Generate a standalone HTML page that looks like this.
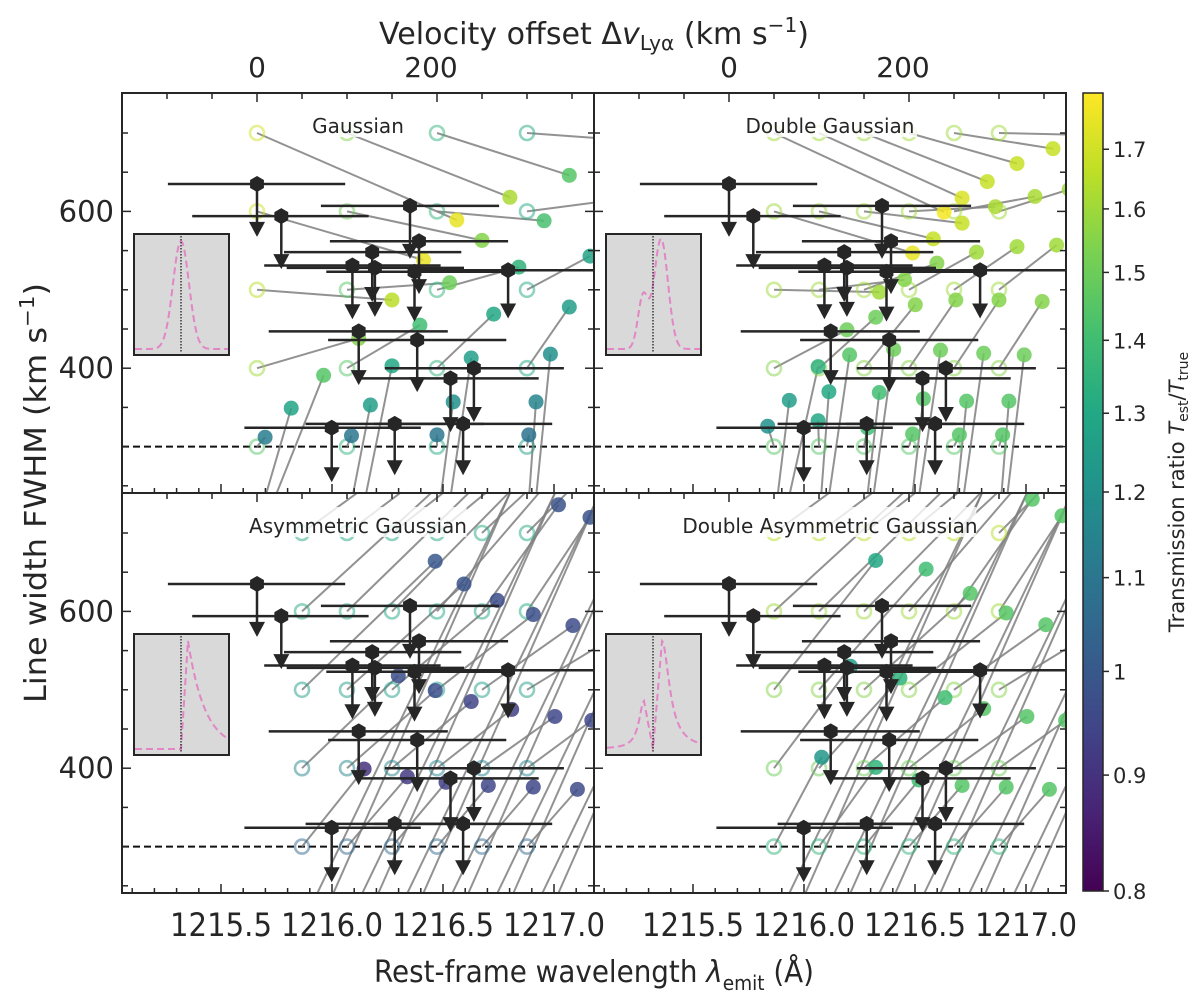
<!DOCTYPE html>
<html><head><meta charset="utf-8"><style>
html,body{margin:0;padding:0;background:#fff}
svg text{font-family:"DejaVu Sans","Liberation Sans",sans-serif;fill:#262626}
</style></head><body>
<svg id="fig" width="1200" height="997" viewBox="0 0 1200 997" xmlns="http://www.w3.org/2000/svg">
<defs>
<linearGradient id="vir" x1="0" y1="1" x2="0" y2="0">
<stop offset="0" stop-color="#440154"/><stop offset="0.1" stop-color="#482475"/><stop offset="0.2" stop-color="#414487"/><stop offset="0.3" stop-color="#355f8d"/><stop offset="0.4" stop-color="#2a788e"/><stop offset="0.5" stop-color="#21918c"/><stop offset="0.6" stop-color="#22a884"/><stop offset="0.7" stop-color="#44bf70"/><stop offset="0.8" stop-color="#7ad151"/><stop offset="0.9" stop-color="#bddf26"/><stop offset="1" stop-color="#fde725"/>
</linearGradient>
</defs>
<g id="layer"></g>
<text x="594" y="44" text-anchor="middle" font-size="30" textLength="430" lengthAdjust="spacingAndGlyphs">Velocity offset Δ<tspan font-style="italic">v</tspan><tspan font-size="20" dy="6">Lyα</tspan><tspan dy="-6"> (km s</tspan><tspan font-size="20" dy="-12">−1</tspan><tspan dy="12">)</tspan></text>
<text x="594" y="982" text-anchor="middle" font-size="30" textLength="440" lengthAdjust="spacingAndGlyphs">Rest-frame wavelength <tspan font-style="italic">λ</tspan><tspan font-size="20" dy="8">emit</tspan><tspan dy="-8"> (Å)</tspan></text>
<text transform="translate(46,493) rotate(-90)" text-anchor="middle" font-size="30" textLength="420" lengthAdjust="spacingAndGlyphs">Line width FWHM (km s<tspan font-size="20" dy="-12">−1</tspan><tspan dy="12">)</tspan></text>
<rect x="1083" y="93" width="20" height="798" fill="url(#vir)" stroke="#262626" stroke-width="1.5"/>
<text transform="translate(1184,492) rotate(-90)" text-anchor="middle" font-size="21">Transmission ratio <tspan font-style="italic">T</tspan><tspan font-size="14" dy="4">est</tspan><tspan dy="-4">/</tspan><tspan font-style="italic">T</tspan><tspan font-size="14" dy="4">true</tspan></text>
</svg>
<script>
// ---- data ----
const obsV=[0,27,170,180,128,106,131,175,279,113,178,215,241,83,153,229];
const obsF=[635,594,607,562,548,531,528,523,525,447,436,387,400,324,329,329];
const obsErrLo=[-99,-72,71,81,30,8,33,77,181,13,79,116,142,-14,54,130];
const obsErrHi=[98,124,269,279,227,204,230,273,480,212,277,313,341,182,252,328];
const obsLimF=[570,529,542,497,487,465,468,462,466,381,372,321,334,257,266,266];

const p1TrueV=[0,100,200,300,0,100,200,300,0,100,200,300,0,100,200,300,0,100,200,300,0,-20,100,100,200,200,300,300];
const p1TrueF=[700,700,700,700,600,600,600,600,500,500,500,500,400,400,400,400,300,300,300,300,200,120,200,120,200,120,200,120];
const p1EstV=[222,281,347,420,185,250,319,400,150,214,291,370,113,181,263,347,9,105,200,302,38,74,126,150,218,238,310,326];
const p1EstF=[589,618,646,690,538,563,588,615,487,509,529,543,438,455,469,478,312,314,315,315,349,391,353,403,357,413,357,418];
const p1Ratio=[1.75,1.62,1.45,1.4,1.75,1.55,1.42,1.35,1.65,1.5,1.35,1.28,1.55,1.4,1.3,1.25,1.12,1.1,1.1,1.08,1.28,1.45,1.25,1.3,1.2,1.25,1.15,1.2];
const p1CircRatio=[1.7,1.55,1.35,1.3,1.7,1.5,1.35,1.3,1.65,1.45,1.35,1.3,1.6,1.45,1.35,1.3,1.45,1.35,1.3,1.25,1.3,1.3,1.3,1.3,1.3,1.3,1.3,1.3];

const gridV=[50,100,150,200,250,300];
const p2Rows=[700,600,500,400,300,200,150];
const p2EstV=[239,259,287,320,360,420, 204,227,259,296,340,378, 167,195,231,275,320,364, 131,163,207,252,300,348, 43,99,154,204,256,304, 67,111,167,216,264,311, 99,134,183,235,283,328];
const p2EstF=[599,617,638,661,680,697, 547,565,585,606,619,628, 497,513,534,548,555,557, 449,465,481,487,487,485, 326,333,324,316,315,315, 359,370,369,361,358,358, 402,417,424,423,419,417];
const p2Ratio=[1.78,1.72,1.68,1.68,1.68,1.68, 1.75,1.68,1.68,1.62,1.62,1.6, 1.6,1.55,1.55,1.6,1.6,1.6, 1.5,1.5,1.55,1.55,1.55,1.55, 1.2,1.3,1.4,1.45,1.45,1.45, 1.25,1.3,1.4,1.45,1.45,1.45, 1.35,1.45,1.5,1.5,1.5,1.5];
const p2CircRatio=[1.6,1.6,1.6,1.55,1.45,1.45,1.45];

const p3Rows=[700,600,500,400,300,200,150];
const p3EstV=[290,320,350,380,400,430, 240,270,300,320,335,370, 198,230,267,307,351,400, 157,198,238,283,331,372, 119,167,210,257,307,356, 310,360,410,460,510,560, 300,350,400,450,500,550];
const p3EstF=[900,890,880,870,860,850, 800,790,775,760,736,720, 664,635,614,596,582,570, 518,499,485,475,466,461, 399,389,382,378,376,373, 820,820,820,820,820,820, 800,800,800,800,800,800];
const p3Ratio=[1,1,1,1,1,1, 1,1,1,1,0.98,0.98, 1.0,0.98,0.97,0.97,0.96,0.96, 0.97,0.97,0.94,0.93,0.95,0.95, 0.9,0.92,0.93,0.95,0.95,0.96, 1,1,1,1,1,1, 1,1,1,1,1,1];
const p3CircRatio=[1.3,1.3,1.25,1.15,1.05,1.05,1.05];

const p4Rows=[700,600,500,400,300,200,150];
const p4EstV=[290,320,350,380,400,430, 240,270,300,320,337,370, 163,219,268,308,352,400, 135,190,240,283,331,374, 103,163,211,259,308,356, 310,360,410,460,510,560, 300,350,400,450,500,550];
const p4EstF=[900,890,880,870,860,850, 800,790,775,760,743,722, 665,654,623,598,583,570, 530,515,490,476,466,461, 414,401,385,378,376,373, 820,820,820,820,820,820, 800,800,800,800,800,800];
const p4Ratio=[1.45,1.45,1.45,1.45,1.45,1.45, 1.45,1.45,1.45,1.45,1.45,1.45, 1.3,1.4,1.45,1.45,1.45,1.45, 1.25,1.35,1.4,1.45,1.45,1.45, 1.22,1.35,1.4,1.45,1.45,1.45, 1.4,1.4,1.4,1.4,1.4,1.4, 1.4,1.4,1.4,1.4,1.4,1.4];
const p4CircRatio=[1.65,1.6,1.55,1.5,1.35,1.35,1.35];

const wlTicks=[1215.5,1216.0,1216.5,1217.0];
const wlLabels=["1215.5","1216.0","1216.5","1217.0"];
const velLabels=[0,200];
const fwhmLabels=[400,600];
const cbTicks=[0.8,0.9,1,1.1,1.2,1.3,1.4,1.5,1.6,1.7];
const cbLabels=["0.8","0.9","1","1.1","1.2","1.3","1.4","1.5","1.6","1.7"];
const panelTitles=["Gaussian","Double Gaussian","Asymmetric Gaussian","Double Asymmetric Gaussian"];

// ---- helpers ----
const NS="http://www.w3.org/2000/svg";
const layer=document.getElementById('layer');
function mk(tag,attrs,parent){const e=document.createElementNS(NS,tag);for(const k in attrs)e.setAttribute(k,attrs[k]);(parent||layer).appendChild(e);return e;}
const VS=[[0,'#440154'],[0.1,'#482475'],[0.2,'#414487'],[0.3,'#355f8d'],[0.4,'#2a788e'],[0.5,'#21918c'],[0.6,'#22a884'],[0.7,'#44bf70'],[0.8,'#7ad151'],[0.9,'#bddf26'],[1,'#fde725']];
function hex(c){return [1,3,5].map(i=>parseInt(c.substr(i,2),16));}
function norm(r){return Math.max(0,Math.min(1,Math.log(r/0.8)/Math.log(1.8/0.8)));}
function cmap(r){const t=norm(r);for(let i=0;i<VS.length-1;i++){if(t<=VS[i+1][0]){const f=(t-VS[i][0])/(VS[i+1][0]-VS[i][0]);const a=hex(VS[i][1]),b=hex(VS[i+1][1]);return 'rgb('+a.map((v,j)=>Math.round(v+(b[j]-v)*f)).join(',')+')';}}return VS[10][1];}

const PW=472,PH=400;
const panels=[[122,93],[594,93],[122,493],[594,493]];
function xV(L,v){return L+135+v*0.9;}
function xW(L,w){return L+99+(w-1215.5)*222;}
function yF(T,f){return T+40+(700-f)*0.784;}

cbTicks.forEach((r,i)=>{const y=891-norm(r)*798;
 const t=mk('line',{x1:1103,x2:1109,y1:y,y2:y,stroke:'#262626','stroke-width':1.5});
 
 
 const l=mk('text',{x:1113,y:y+8,'font-size':21});l.textContent=cbLabels[i];
 
 
});

function buildPanel(pi,tv,tf,ev,ef,ratio,cr){
 const [L,T]=panels[pi];
 const g=mk('g',{});
 
 
 const cp=mk('clipPath',{id:'cp'+pi},g);mk('rect',{x:L,y:T,width:PW,height:PH},cp);
 const c=mk('g',{'clip-path':'url(#cp'+pi+')'},g);
 const d=mk('line',{x1:L,x2:L+PW,y1:yF(T,300),y2:yF(T,300),stroke:'#111','stroke-width':2,'stroke-dasharray':'7,4'},c);
 
 
 for(let i=0;i<tv.length;i++){
  const ln=mk('line',{x1:xV(L,tv[i]),y1:yF(T,tf[i]),x2:xV(L,ev[i]),y2:yF(T,ef[i]),stroke:'#7f7f7f','stroke-width':2,'stroke-opacity':0.85},c);
  
  
 }
 for(let i=0;i<tv.length;i++){
  const o=mk('circle',{cx:xV(L,tv[i]),cy:yF(T,tf[i]),r:7,fill:'none',stroke:cmap(cr[i]),'stroke-width':2.6,'stroke-opacity':0.5},c);
  
  
 }
 for(let i=0;i<tv.length;i++){
  const p=mk('circle',{cx:xV(L,ev[i]),cy:yF(T,ef[i]),r:7.5,fill:cmap(ratio[i]),'fill-opacity':0.85},c);
  
  
 }
 const iy=pi<2?234:634, ix=L+12;
 const ins=mk('g',{},g);
 
 
 mk('rect',{x:ix,y:iy,width:95,height:121,fill:'#d9d9d9',stroke:'#262626','stroke-width':2},ins);
 const cx=ix+47, base=iy+115;
 let pts=[];
 for(let k=0;k<=93;k++){const px=ix+1+k;const u=px-cx;let h=0;
  if(pi===0)h=108*Math.exp(-u*u/(2*8*8));
  else if(pi===1)h=110*Math.exp(-(u-8)*(u-8)/(2*7*7))+52*Math.exp(-(u+10)*(u+10)/(2*5*5));
  else if(pi===2)h=u<0?0:(u<7?108*(u/7):108*Math.exp(-(u-7)/17));
  else {if(u<0){const w=-u;h=w<9?48*(w/9):48/(1+Math.pow((w-9)/6,2));}else{h=u<9?108*(u/9):108/(1+Math.pow((u-9)/9,2));}}
  pts.push(px+','+(base-h));}
 mk('polyline',{points:pts.join(' '),fill:'none',stroke:'#e377c2','stroke-width':2,'stroke-dasharray':'7,4','stroke-opacity':0.85},ins);
 mk('line',{x1:cx,x2:cx,y1:iy+2,y2:iy+119,stroke:'#111','stroke-width':1.2,'stroke-dasharray':'1.5,1.5'},ins);
 for(let i=0;i<obsV.length;i++){
  const x=xV(L,obsV[i]),y=yF(T,obsF[i]),ye=yF(T,obsLimF[i]);
  const eb=mk('line',{x1:xV(L,obsErrLo[i]),x2:Math.min(xV(L,obsErrHi[i]),L+PW),y1:y,y2:y,stroke:'#262626','stroke-width':2.5},g);
  
  
  const ar=mk('line',{x1:x,x2:x,y1:y,y2:ye-8,stroke:'#262626','stroke-width':2.5},g);
  
  
  mk('polygon',{points:(x-8)+','+(ye-13)+' '+(x+8)+','+(ye-13)+' '+x+','+(ye+2),fill:'#262626'},g);
  let hp=[];for(let k=0;k<6;k++){const a=Math.PI/6+k*Math.PI/3;hp.push((x+8*Math.cos(a))+','+(y+8*Math.sin(a)));}
  const h=mk('polygon',{points:hp.join(' '),fill:'#262626'},g);
  
  
 }
 const tw=panelTitles[pi].length*10.8+12;
 mk('rect',{x:L+236-tw/2,y:T+14,width:tw,height:30,fill:'#fff','fill-opacity':0.8},g);
 const tt=mk('text',{x:L+236,y:T+40,'text-anchor':'middle','font-size':20},g);tt.textContent=panelTitles[pi];
 
 
 const fr=mk('rect',{x:L,y:T,width:PW,height:PH,fill:'none',stroke:'#262626','stroke-width':2},g);
 
 
 for(let w=1215.1;w<1217.2;w+=0.1){const x=xW(L,w);if(x<L||x>L+PW)continue;const maj=Math.abs(w*2-Math.round(w*2))<0.01;
  mk('line',{x1:x,x2:x,y1:T+PH,y2:T+PH-(maj?9:5),stroke:'#262626','stroke-width':1.5},g);}
 for(let v=-150;v<=400;v+=50){const x=xV(L,v);if(x<L+2||x>L+PW-2)continue;const maj=(v===0||v===200);
  mk('line',{x1:x,x2:x,y1:T,y2:T+(maj?9:6),stroke:'#262626','stroke-width':1.5},g);}
 for(let f=250;f<=750;f+=50){const y=yF(T,f);if(y<T+2||y>T+PH-2)continue;const maj=(f===400||f===600);
  mk('line',{x1:L,x2:L+(maj?9:6),y1:y,y2:y,stroke:'#262626','stroke-width':1.5},g);
  mk('line',{x1:L+PW,x2:L+PW-(maj?9:6),y1:y,y2:y,stroke:'#262626','stroke-width':1.5},g);}
 if(pi>=2){wlTicks.forEach((w,i)=>{const t=mk('text',{x:xW(L,w),y:936,'text-anchor':'middle','font-size':32,textLength:102,lengthAdjust:'spacingAndGlyphs'});t.textContent=wlLabels[i];
  
  });}
 if(pi<2){velLabels.forEach(v=>{const t=mk('text',{x:xV(L,v)-(v?6:0),y:77,'text-anchor':'middle','font-size':28});t.textContent=String(v);
  
  });}
 if(pi%2===0){fwhmLabels.forEach(f=>{const t=mk('text',{x:L-8,y:yF(T,f)+10,'text-anchor':'end','font-size':29});t.textContent=String(f);
  
  });}
}

function expand(rows,cr){const tv=[],tf=[],c=[];rows.forEach((f,ri)=>gridV.forEach(v=>{tv.push(v);tf.push(f);c.push(cr[ri]);}));return [tv,tf,c];}
buildPanel(0,p1TrueV,p1TrueF,p1EstV,p1EstF,p1Ratio,p1CircRatio);
let e2=expand(p2Rows,p2CircRatio);buildPanel(1,e2[0],e2[1],p2EstV,p2EstF,p2Ratio,e2[2]);
let e3=expand(p3Rows,p3CircRatio);buildPanel(2,e3[0],e3[1],p3EstV,p3EstF,p3Ratio,e3[2]);
let e4=expand(p4Rows,p4CircRatio);buildPanel(3,e4[0],e4[1],p4EstV,p4EstF,p4Ratio,e4[2]);
</script>
</body></html>
